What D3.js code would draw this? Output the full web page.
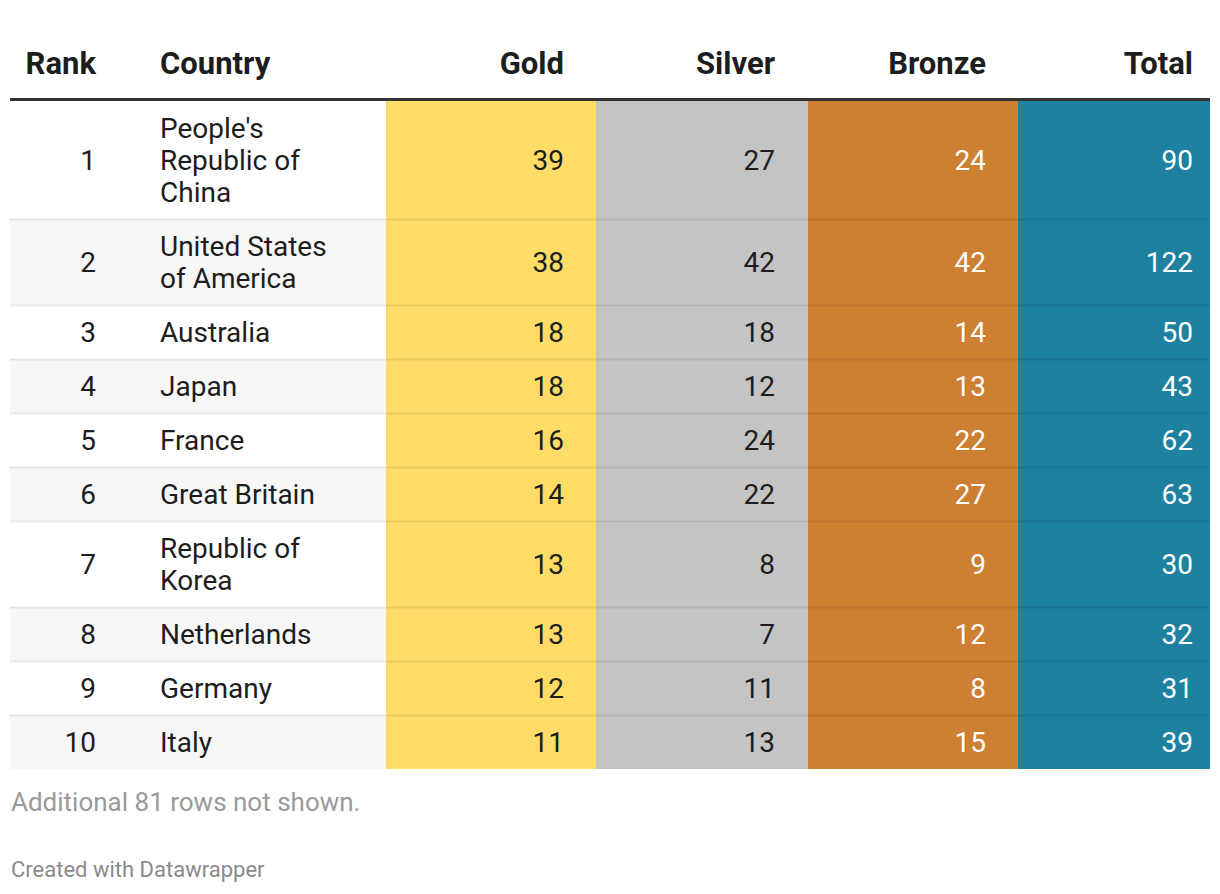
<!DOCTYPE html>
<html><head><meta charset="utf-8">
<script src="https://cdn.jsdelivr.net/npm/d3@7"></script>
<style>
html,body{margin:0;padding:0;background:#fff;}
svg{display:block;font-family:Roboto, "Noto Sans", sans-serif;}
</style></head>
<body>
<svg id="chart" width="1220" height="894"></svg>
<script>
const headers = ["Rank","Country","Gold","Silver","Bronze","Total"];
const ranks = [1,2,3,4,5,6,7,8,9,10];
const countries = ["People's Republic of China","United States of America","Australia","Japan","France","Great Britain","Republic of Korea","Netherlands","Germany","Italy"];
const gold = [39,38,18,18,16,14,13,13,12,11];
const silver = [27,42,18,12,24,22,8,7,11,13];
const bronze = [24,42,14,13,22,27,9,12,8,15];
const total = [90,122,50,43,62,63,30,32,31,39];
const note = "Additional 81 rows not shown.";
const credit = "Created with Datawrapper";

const svg = d3.select("#chart");
const left = 10, right = 1210;
const bodyTop = 101;
const fontBody = 28, lineH = 32;

const cols = [
  {key:"rank",  x0:10,  x1:160, anchor:"end", tx:96,  bg:null, color:"#1d1d1d"},
  {key:"country",x0:160,x1:386, anchor:"start", tx:160, bg:null, color:"#1d1d1d"},
  {key:"gold",  x0:386, x1:596, anchor:"end", tx:564, bg:"#fddd67", color:"#1d1d1d"},
  {key:"silver",x0:596, x1:808, anchor:"end", tx:775, bg:"#c4c4c4", color:"#1d1d1d"},
  {key:"bronze",x0:808, x1:1018,anchor:"end", tx:986, bg:"#cd7f32", color:"#ffffff"},
  {key:"total", x0:1018,x1:1210,anchor:"end", tx:1193,bg:"#1f81a0", color:"#ffffff"}
];

const meas = svg.append("text").attr("font-size",fontBody).attr("visibility","hidden");
function wrap(str, maxW){
  const words = str.split(" "); const lines=[]; let cur="";
  for(const w of words){
    const t = cur ? cur+" "+w : w;
    meas.text(t);
    if(meas.node().getComputedTextLength() > maxW && cur){ lines.push(cur); cur=w; }
    else cur=t;
  }
  if(cur) lines.push(cur);
  return lines;
}

const rows = ranks.map((r,i)=>({rank:r, country:countries[i], lines:wrap(countries[i],190),
  gold:gold[i], silver:silver[i], bronze:bronze[i], total:total[i]}));
meas.remove();

let y = bodyTop;
rows.forEach(d=>{ d.h = 22 + lineH*d.lines.length; d.y = y; y += d.h; });
const bodyBottom = y;

svg.append("g").selectAll("rect").data(rows).join("rect")
  .attr("x",left).attr("width",right-left)
  .attr("y",d=>d.y).attr("height",d=>d.h)
  .attr("fill",(d,i)=> i%2===1 ? "#f7f7f7" : "#ffffff");

svg.append("g").selectAll("rect").data(cols.filter(c=>c.bg)).join("rect")
  .attr("x",c=>c.x0).attr("width",c=>c.x1-c.x0)
  .attr("y",bodyTop).attr("height",bodyBottom-bodyTop)
  .attr("fill",c=>c.bg);

svg.append("g").selectAll("line").data(rows.slice(1)).join("line")
  .attr("x1",left).attr("x2",right)
  .attr("y1",d=>d.y+0.5).attr("y2",d=>d.y+0.5)
  .attr("stroke","rgba(0,0,0,0.08)").attr("stroke-width",2);

svg.append("g").selectAll("text").data(cols).join("text")
  .attr("x",c=>c.tx).attr("y",74)
  .attr("text-anchor",c=>c.anchor)
  .attr("font-size",31).attr("font-weight","bold").attr("fill","#1d1d1d")
  .text((c,i)=>headers[i]);
svg.append("rect").attr("x",left).attr("width",right-left).attr("y",98).attr("height",3).attr("fill","#333333");

const g = svg.append("g");
rows.forEach(d=>{
  const cy = d.y + d.h/2;
  cols.forEach(c=>{
    if(c.key==="country"){
      const n = d.lines.length;
      const t = g.append("text").attr("x",c.tx).attr("font-size",fontBody).attr("fill",c.color).attr("text-anchor","start");
      d.lines.forEach((ln,k)=>{
        t.append("tspan").attr("x",c.tx).attr("y", cy + (k-(n-1)/2)*lineH).attr("dy","0.36em").text(ln);
      });
    } else {
      g.append("text").attr("x",c.tx).attr("y",cy).attr("dy","0.36em")
        .attr("font-size",fontBody).attr("fill",c.color).attr("text-anchor",c.anchor)
        .text(d[c.key]);
    }
  });
});

svg.append("text").attr("x",11).attr("y",811).attr("font-size",26).attr("fill","#9a9a9a").text(note);
svg.append("text").attr("x",11).attr("y",877).attr("font-size",22).attr("fill","#8a8a8a").text(credit);
</script>
</body></html>
